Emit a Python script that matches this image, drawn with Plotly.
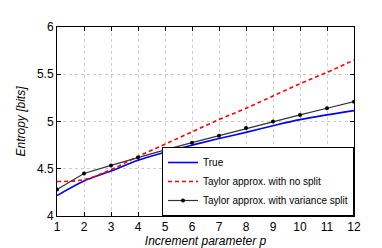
import plotly.graph_objects as go

p = [1, 2, 3, 4, 5, 6, 7, 8, 9, 10, 11, 12]
true_vals = [4.215, 4.37, 4.475, 4.59, 4.675, 4.75, 4.82, 4.885, 4.955, 5.02, 5.07, 5.115]
no_split = [4.365, 4.385, 4.49, 4.63, 4.76, 4.89, 5.02, 5.14, 5.27, 5.40, 5.52, 5.65]
var_split = [4.28, 4.45, 4.535, 4.62, 4.70, 4.776, 4.85, 4.93, 5.00, 5.07, 5.14, 5.21]
x_ticks = list(range(1, 13))
y_ticks = [4, 4.5, 5, 5.5, 6]

fig = go.Figure()
fig.add_trace(go.Scatter(x=p, y=true_vals, mode="lines", name="True",
                         line=dict(color="#0000ff", width=1.6, shape="spline")))
fig.add_trace(go.Scatter(x=p, y=no_split, mode="lines", name="Taylor approx. with no split",
                         line=dict(color="#ff0000", width=1.6, dash="4px,3px", shape="spline")))
fig.add_trace(go.Scatter(x=p, y=var_split, mode="lines+markers", name="Taylor approx. with variance split",
                         line=dict(color="#333333", width=1.2),
                         marker=dict(color="#000000", size=4)))

axis_common = dict(showline=True, linecolor="#000000", linewidth=1, mirror="ticks",
                   ticks="inside", ticklen=4, tickcolor="#000000",
                   showgrid=True, gridcolor="#cccccc", griddash="dot", gridwidth=1,
                   zeroline=False, tickfont=dict(family="Liberation Sans, Arial", size=12, color="#000000"))

fig.update_xaxes(range=[1, 12], tickvals=x_ticks, **axis_common,
                 title=dict(text="<i>Increment parameter p</i>", standoff=1,
                            font=dict(family="Liberation Sans, Arial", size=12, color="#000000")))
fig.update_yaxes(range=[4, 6], tickvals=y_ticks, **axis_common,
                 title=dict(text="<i>Entropy [bits]</i>", standoff=8,
                            font=dict(family="Liberation Sans, Arial", size=12, color="#000000")))

fig.update_layout(
    width=382, height=248,
    margin=dict(l=49, r=36, t=19, b=28),
    paper_bgcolor="white", plot_bgcolor="white",
    showlegend=True,
    legend=dict(x=1, y=0, xanchor="right", yanchor="bottom",
                bgcolor="white", bordercolor="#000000", borderwidth=1,
                font=dict(family="Liberation Sans, Arial", size=10, color="#000000"),
                itemwidth=30, tracegroupgap=0),
)

fig.write_html("out.html")
